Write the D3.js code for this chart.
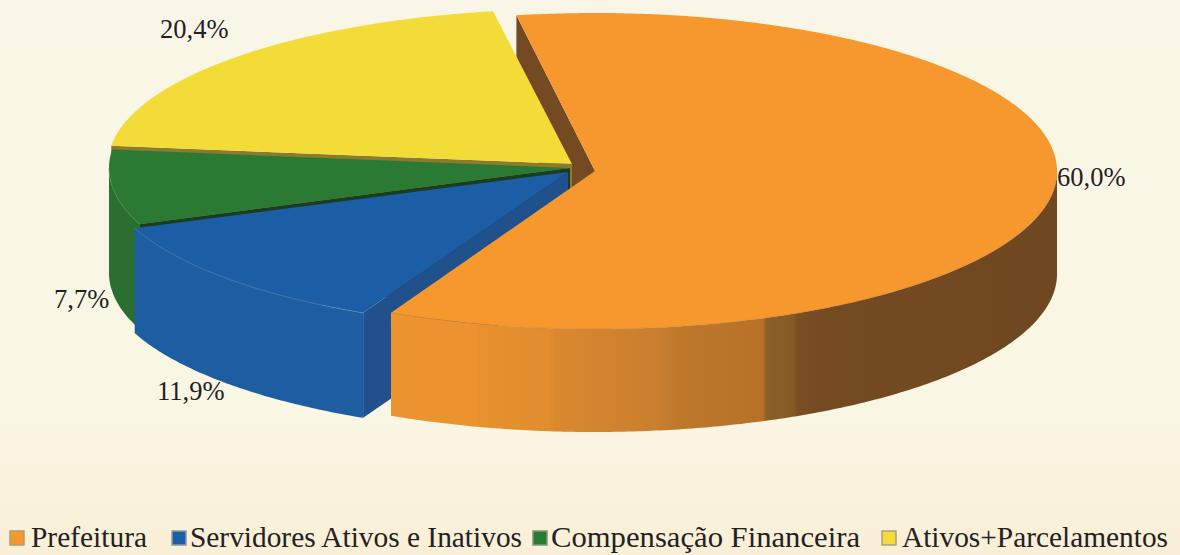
<!DOCTYPE html>
<html><head><meta charset="utf-8">
<script src="https://cdn.jsdelivr.net/npm/d3@7/dist/d3.min.js"></script>
<style>html,body{margin:0;padding:0;overflow:hidden}svg{display:block}text{font-family:"Liberation Serif",serif;fill:#222226}</style>
</head><body><svg id="c" width="1180" height="555"></svg>
<script>
const categories = ["Prefeitura","Servidores Ativos e Inativos","Compensação Financeira","Ativos+Parcelamentos"];
const shares = [60.0,11.9,7.7,20.4];
const labels = ["60,0%","11,9%","7,7%","20,4%"];
const topColors = ["#f7982f","#1c5ea6","#2b7a34","#f3dc38"];
const wallColors = ["#ec9430","#1d5ea3","#2a6f30","#8a7a2a"];
const faceColors = ["#734a22","#21518c","#1a3c20","#8c7a2e"];
const rimColors = ["#c98a3c","#5f8fc4","#5aa860","#b8a830"];
const swatchEdge = ["#b59a70","#8f9aa8","#7d9a80","#a8a080"];

const W=1180,H=555;
const radii=[[462,158],[464,157],[461,157],[464,155]];
const depths=[103,105,105,100];
const centers=[[595,171],[568,172],[570,168],[572,164]];
const labelPos=[[1057,186],[157,400],[54,308],[160,38]];
const swatchX=[10,172,533,882];
const legendTextX=[31,190,551,902];
const legendTextW=[116,332,309,266];
const bandStops=[[393,"#ec9430"],[477,"#ea932f"],[480,"#e6902e"],[550,"#e28d2e"],[555,"#da882e"],[659,"#c97e2e"],[680,"#be782c"],[763,"#b87228"],[766,"#8c6026"],[793,"#855a25"],[798,"#7a4e23"],[830,"#744a21"],[1057,"#6f4720"]];

const svg=d3.select("#c");
const defs=svg.append("defs");
const bg=defs.append("linearGradient").attr("id","bg").attr("x1",0).attr("x2",0).attr("y1",0).attr("y2",1);
bg.append("stop").attr("offset","0").attr("stop-color","#f9f6e7");
bg.append("stop").attr("offset","0.75").attr("stop-color","#f9f6e3");
bg.append("stop").attr("offset","1").attr("stop-color","#faefd6");
svg.append("rect").attr("width",W).attr("height",H).attr("fill","url(#bg)");

const bandGrad=defs.append("linearGradient").attr("id","band").attr("gradientUnits","userSpaceOnUse")
  .attr("x1",393).attr("x2",1057).attr("y1",0).attr("y2",0);
const bx=d3.scaleLinear().domain([393,1057]).range([0,1]);
bandStops.forEach(s=>bandGrad.append("stop").attr("offset",bx(s[0])).attr("stop-color",s[1]));

const rad=d=>d*Math.PI/180;
const pie=d3.pie().sort(null).startAngle(rad(-9.8)).endAngle(rad(350.2));
const slices=pie(shares);

const scales=centers.map((c,i)=>({
  x:d3.scaleLinear().domain([-1,1]).range([c[0]-radii[i][0],c[0]+radii[i][0]]),
  y:d3.scaleLinear().domain([-1,1]).range([c[1]-radii[i][1],c[1]+radii[i][1]])
}));
const lineGen=d3.line();
const rimPts=(i,a0,a1,dy=0)=>{
  const s=scales[i],n=Math.max(2,Math.ceil(Math.abs(a1-a0)/0.01));
  return d3.range(n+1).map(k=>{const a=a0+(a1-a0)*k/n;return [s.x(Math.sin(a)),s.y(-Math.cos(a))+dy];});
};
const apex=(i,dy=0)=>[scales[i].x(0),scales[i].y(0)+dy];
const topPath=i=>lineGen([apex(i),...rimPts(i,slices[i].startAngle,slices[i].endAngle)])+"Z";
const wallPath=i=>{
  const a0=Math.max(slices[i].startAngle,Math.PI/2),a1=Math.min(slices[i].endAngle,3*Math.PI/2);
  return lineGen([...rimPts(i,a0,a1),...rimPts(i,a1,a0,depths[i])])+"Z";
};
const facePath=(i,a)=>{
  const p=rimPts(i,a,a)[0];
  return lineGen([apex(i),p,[p[0],p[1]+depths[i]],apex(i,depths[i])])+"Z";
};

const g=svg.append("g");
function drawTop(i){
  g.append("path").attr("d",topPath(i)).attr("fill",topColors[i]);
}
function drawRim(i){
  const a0=Math.max(slices[i].startAngle,Math.PI/2),a1=Math.min(slices[i].endAngle,3*Math.PI/2);
  g.append("path").attr("d",lineGen(rimPts(i,a0,a1))).attr("fill","none").attr("stroke",rimColors[i]).attr("stroke-width",0.8).attr("opacity",0.75);
}
// back to front: orange inner face, yellow, green, blue, orange
g.append("path").attr("d",facePath(0,slices[0].startAngle)).attr("fill",faceColors[0]);
g.append("path").attr("d",facePath(3,slices[3].startAngle)).attr("fill",faceColors[3]);
drawTop(3);
g.append("path").attr("d",facePath(2,slices[2].startAngle)).attr("fill",faceColors[2]);
g.append("path").attr("d",wallPath(2)).attr("fill",wallColors[2]);
drawTop(2); drawRim(2);
g.append("path").attr("d",facePath(1,slices[1].startAngle)).attr("fill",faceColors[1]);
g.append("path").attr("d",wallPath(1)).attr("fill",wallColors[1]);
drawTop(1); drawRim(1);
g.append("path").attr("d",wallPath(0)).attr("fill","url(#band)");
drawTop(0); drawRim(0);

svg.append("g").selectAll("text").data(labels).join("text")
  .attr("x",(d,i)=>labelPos[i][0]).attr("y",(d,i)=>labelPos[i][1])
  .attr("font-size",26.5).text(d=>d);

const leg=svg.append("g").selectAll("g").data(categories).join("g");
leg.append("rect").attr("x",(d,i)=>swatchX[i]).attr("y",531).attr("width",14).attr("height",14)
  .attr("fill",(d,i)=>topColors[i]).attr("stroke",(d,i)=>swatchEdge[i]).attr("stroke-width",1.5);
leg.append("text").attr("x",(d,i)=>legendTextX[i]).attr("y",547).attr("font-size",29.5)
  .attr("textLength",(d,i)=>legendTextW[i]).attr("lengthAdjust","spacingAndGlyphs").text(d=>d);
</script></body></html>
